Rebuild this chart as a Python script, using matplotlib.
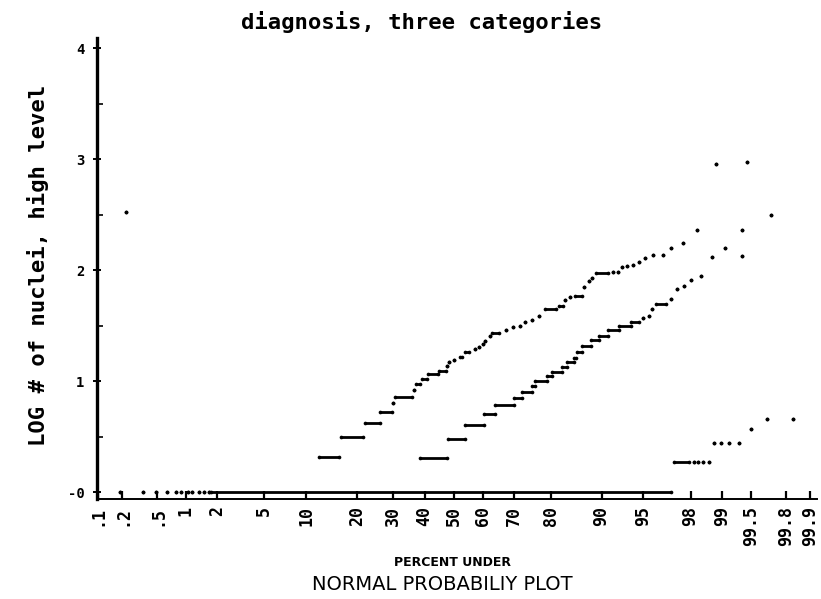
import matplotlib
matplotlib.use('Agg')
import matplotlib.pyplot as plt
from statistics import NormalDist

# x positions are normal scores; the axis is labelled in percent under
pct_ticks = [0.1, 0.2, 0.5, 1, 2, 5, 10, 20, 30, 40, 50, 60, 70, 80, 90, 95, 98, 99, 99.5, 99.8, 99.9]
pct_labels = ['.1', '.2', '.5', '1', '2', '5', '10', '20', '30', '40', '50', '60', '70',
              '80', '90', '95', '98', '99', '99.5', '99.8', '99.9']
y_ticks = [0, 1, 2, 3, 4]
y_labels = ['-0', '1', '2', '3', '4']

# each mark: run of points from score lo to score hi at one level (lo == hi -> one point)
cat1_lo = [-2.90, -2.84, -2.70, -2.58, -2.49, -2.41, -2.37, -2.31, -2.27, -2.21, -2.17, -2.12, -2.11,
           1.91, 2.08, 2.12, 2.16, 2.21, 2.26, 2.32, 2.39, 2.47, 2.58, 2.72, 2.94]
cat1_hi = [-2.90, -2.84, -2.70, -2.58, -2.49, -2.41, -2.37, -2.31, -2.27, -2.21, -2.17, -2.12, 1.88,
           2.04, 2.08, 2.12, 2.16, 2.21, 2.26, 2.32, 2.39, 2.47, 2.58, 2.72, 2.94]
cat1_val = [0, 2.52, 0, 0, 0, 0, 0, 0, 0, 0, 0, 0, 0,
            0.27, 0.27, 0.27, 0.27, 0.27, 0.44, 0.44, 0.44, 0.44, 0.57, 0.66, 0.66]

cat2_lo = [-0.29, -0.05, 0.10, 0.26, 0.36, 0.52, 0.59, 0.68, 0.70, 0.81, 0.85, 0.94, 0.98, 1.04, 1.07,
           1.11, 1.19, 1.26, 1.34, 1.43, 1.54, 1.64, 1.69, 1.72, 1.75, 1.88, 1.94, 2.00, 2.06, 2.14,
           2.24, 2.35, 2.50, 2.50, 2.75]
cat2_hi = [-0.06, 0.10, 0.26, 0.36, 0.52, 0.59, 0.68, 0.70, 0.81, 0.85, 0.94, 0.98, 1.04, 1.06, 1.11,
           1.19, 1.26, 1.34, 1.43, 1.54, 1.61, 1.64, 1.69, 1.72, 1.84, 1.88, 1.94, 2.00, 2.06, 2.14,
           2.24, 2.35, 2.50, 2.50, 2.75]
cat2_val = [0.31, 0.48, 0.60, 0.70, 0.78, 0.85, 0.90, 0.955, 1.00, 1.045, 1.08, 1.13, 1.17, 1.21, 1.26,
            1.32, 1.37, 1.41, 1.46, 1.50, 1.53, 1.57, 1.59, 1.65, 1.69, 1.74, 1.83, 1.86, 1.91, 1.95,
            2.12, 2.20, 2.13, 2.36, 2.50]

cat3_lo = [-1.17, -0.98, -0.77, -0.64, -0.53, -0.51, -0.35, -0.33, -0.28, -0.22, -0.13, -0.06, -0.04,
           0.00, 0.05, 0.10, 0.18, 0.22, 0.25, 0.27, 0.31, 0.33, 0.45, 0.51, 0.57, 0.62, 0.68, 0.74,
           0.79, 0.91, 0.96, 1.01, 1.05, 1.13, 1.17, 1.20, 1.23, 1.38, 1.42, 1.46, 1.50, 1.55, 1.61,
           1.66, 1.73, 1.81, 1.88, 1.99, 2.11, 2.27, 2.54]
cat3_hi = [-1.00, -0.79, -0.64, -0.54, -0.53, -0.36, -0.35, -0.29, -0.23, -0.14, -0.07, -0.06, -0.04,
           0.00, 0.07, 0.13, 0.18, 0.22, 0.25, 0.27, 0.31, 0.39, 0.45, 0.51, 0.57, 0.62, 0.68, 0.74,
           0.89, 0.95, 0.96, 1.01, 1.11, 1.13, 1.17, 1.20, 1.34, 1.38, 1.42, 1.46, 1.50, 1.55, 1.61,
           1.66, 1.73, 1.81, 1.88, 1.99, 2.11, 2.27, 2.54]
cat3_val = [0.32, 0.50, 0.62, 0.72, 0.80, 0.86, 0.92, 0.97, 1.02, 1.06, 1.09, 1.14, 1.17,
            1.19, 1.22, 1.26, 1.29, 1.31, 1.33, 1.36, 1.41, 1.43, 1.46, 1.49, 1.50, 1.53, 1.55, 1.59,
            1.65, 1.68, 1.73, 1.76, 1.77, 1.85, 1.90, 1.93, 1.97, 1.98, 1.98, 2.03, 2.04, 2.05, 2.07,
            2.11, 2.14, 2.14, 2.20, 2.24, 2.36, 2.96, 2.97]

MONO = 'DejaVu Sans Mono'

fig = plt.figure(figsize=(8.21, 5.99), dpi=100)
ax = fig.add_axes([0.1181, 0.1674, 0.877, 0.769])

for lo, hi, val in [(cat1_lo, cat1_hi, cat1_val), (cat2_lo, cat2_hi, cat2_val), (cat3_lo, cat3_hi, cat3_val)]:
    runs = [(a, b, v) for a, b, v in zip(lo, hi, val) if b > a]
    ax.hlines([r[2] for r in runs], [r[0] for r in runs], [r[1] for r in runs],
              colors='black', linewidth=2.0, capstyle='butt', zorder=3)
    ax.scatter(lo + hi, val + val, s=7, color='black', linewidths=0, zorder=3)

nd = NormalDist()
ax.set_xticks([nd.inv_cdf(p / 100) for p in pct_ticks])
ax.set_xticklabels(pct_labels, rotation=90, va='top', ha='center',
                   fontfamily=MONO, fontweight='bold', fontsize=12)
ax.set_yticks(y_ticks)
ax.set_yticklabels(y_labels, fontfamily=MONO, fontweight='bold', fontsize=10)
ax.set_yticks([0.5, 1.5, 2.5, 3.5], minor=True)

ax.set_xlim(-3.096, 3.15)
ax.set_ylim(-0.06, 4.09)

ax.tick_params(axis='x', direction='in', length=6, width=1.6, pad=5)
ax.tick_params(axis='y', which='major', direction='inout', length=6, width=1.4, pad=6)
ax.tick_params(axis='y', which='minor', direction='in', length=4, width=1.2)

for side in ['top', 'right']:
    ax.spines[side].set_visible(False)
ax.spines['left'].set_linewidth(2.4)
ax.spines['bottom'].set_linewidth(1.4)

fig.text(422 / 821, 1 - 22 / 599, 'diagnosis, three categories', ha='center', va='center',
         fontfamily=MONO, fontweight='bold', fontsize=16)
fig.text(38 / 821, 1 - 265 / 599, 'LOG # of nuclei, high level', ha='center', va='center',
         rotation=90, fontfamily=MONO, fontweight='bold', fontsize=16)
fig.text(452 / 821, 1 - 563 / 599, 'PERCENT UNDER', ha='center', va='center',
         fontweight='bold', fontsize=9)
fig.text(442 / 821, 1 - 585 / 599, 'NORMAL PROBABILIY PLOT', ha='center', va='center',
         fontsize=14)

fig.savefig('out.png', dpi=100)
